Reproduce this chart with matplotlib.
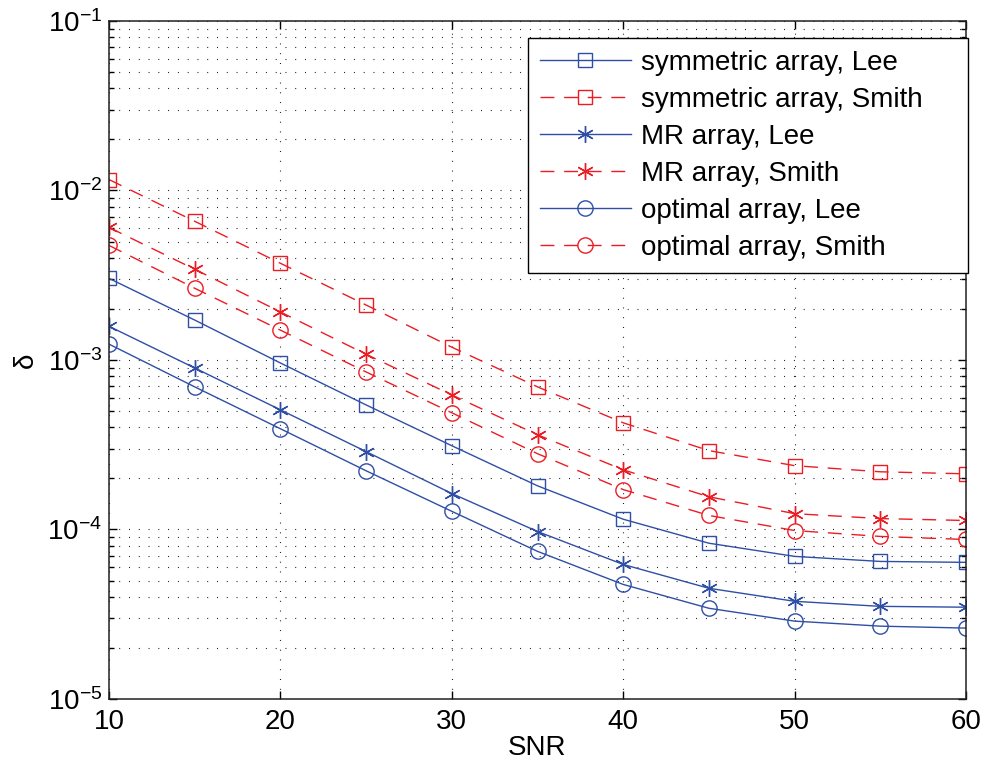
import matplotlib
matplotlib.use("Agg")
import matplotlib.pyplot as plt
import numpy as np

plt.rcParams["font.family"] = ["Liberation Sans", "DejaVu Sans"]
plt.rcParams["mathtext.fontset"] = "custom"
plt.rcParams["mathtext.rm"] = "Liberation Sans"
plt.rcParams["mathtext.it"] = "Liberation Sans:italic"

# dados
snr = [10, 15, 20, 25, 30, 35, 40, 45, 50, 55, 60]

sym_lee = [3.03e-3, 1.72e-3, 9.6e-4, 5.43e-4, 3.12e-4, 1.81e-4, 1.15e-4, 8.3e-5, 6.94e-5, 6.48e-5, 6.4e-5]
sym_smith = [1.16e-2, 6.58e-3, 3.72e-3, 2.11e-3, 1.19e-3, 6.94e-4, 4.26e-4, 2.92e-4, 2.38e-4, 2.19e-4, 2.13e-4]
mr_lee = [1.58e-3, 8.97e-4, 5.08e-4, 2.88e-4, 1.63e-4, 9.73e-5, 6.22e-5, 4.5e-5, 3.77e-5, 3.52e-5, 3.48e-5]
mr_smith = [6.05e-3, 3.43e-3, 1.92e-3, 1.08e-3, 6.22e-4, 3.62e-4, 2.25e-4, 1.56e-4, 1.24e-4, 1.16e-4, 1.13e-4]
opt_lee = [1.24e-3, 6.94e-4, 3.93e-4, 2.22e-4, 1.28e-4, 7.43e-5, 4.74e-5, 3.43e-5, 2.88e-5, 2.69e-5, 2.62e-5]
opt_smith = [4.74e-3, 2.65e-3, 1.5e-3, 8.5e-4, 4.88e-4, 2.8e-4, 1.72e-4, 1.21e-4, 9.86e-5, 9.1e-5, 8.73e-5]

labels = [
    "symmetric array, Lee",
    "symmetric array, Smith",
    "MR array, Lee",
    "MR array, Smith",
    "optimal array, Lee",
    "optimal array, Smith",
]

azul = "#2f4fa5"
vermelho = "#ec1c24"
asterisco = (6, 2, 0)

series = [
    (sym_lee, azul, "-", "s", 10),
    (sym_smith, vermelho, "--", "s", 10),
    (mr_lee, azul, "-", asterisco, 12),
    (mr_smith, vermelho, "--", asterisco, 12),
    (opt_lee, azul, "-", "o", 11),
    (opt_smith, vermelho, "--", "o", 11),
]

fig = plt.figure(figsize=(9.84, 7.74), dpi=100)
ax = fig.add_axes([0.1108, 0.0969, 0.8709, 0.876])

for (vals, cor, ls, mk, ms), lab in zip(series, labels):
    (ln,) = ax.plot(
        snr, vals, color=cor, linestyle=ls, marker=mk, markersize=ms,
        markerfacecolor="none", markeredgecolor=cor, markeredgewidth=1.0,
        linewidth=1.0, label=lab,
    )
    if ls == "--":
        ln.set_dashes((10, 7))

ax.set_yscale("log")
ax.set_xlim(10, 60)
ax.set_ylim(1e-5, 1e-1)
ax.set_xticks(np.arange(10, 61, 10))

ax.grid(True, which="major", axis="x", color="k", linestyle=(0, (0.8, 8)), linewidth=0.8)
ax.grid(True, which="both", axis="y", color="k", linestyle=(0, (0.8, 8)), linewidth=0.8)

ax.tick_params(which="both", direction="in", top=True, right=True, labelsize=20, width=1.0)
ax.tick_params(which="major", length=6)
ax.tick_params(which="minor", length=3.5)
ax.tick_params(axis="x", pad=7)
ax.tick_params(axis="y", pad=5)
for s in ax.spines.values():
    s.set_linewidth(1.1)
    s.set_color("#231f20")

ax.set_xlabel("SNR", fontsize=20, labelpad=0)
ax.set_ylabel("δ", fontsize=20, labelpad=6)

# caixa da legenda mais larga que o texto, como no original
leg = ax.legend(
    loc="upper left", bbox_to_anchor=(0.4889, 0.6313, 0.5134, 0.3437),
    mode="expand", borderaxespad=0,
    fontsize=20, fancybox=False, edgecolor="k", framealpha=1,
    handlelength=3.3, handletextpad=0.36, labelspacing=0.4, borderpad=0.42,
)
leg.get_frame().set_linewidth(1.0)

fig.savefig("out.png", dpi=100)
